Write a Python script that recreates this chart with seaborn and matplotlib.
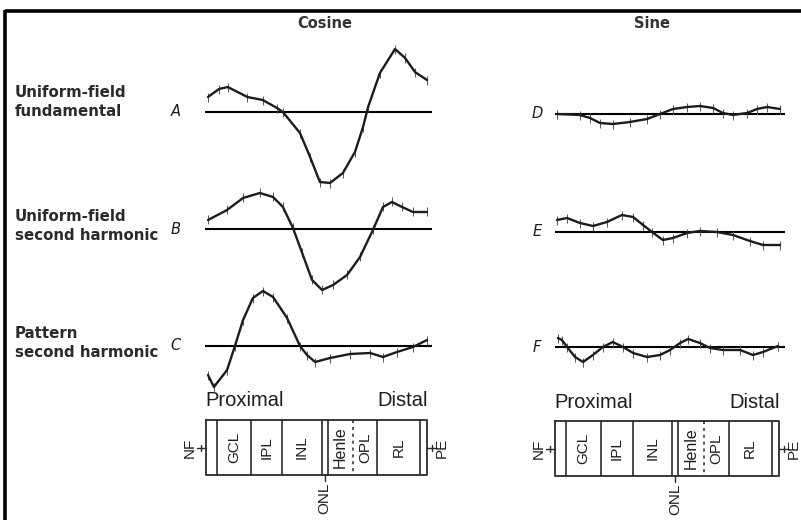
import numpy as np
import pandas as pd
import matplotlib
matplotlib.use("Agg")
import matplotlib.pyplot as plt
import seaborn as sns

sns.set_theme(style="white")
plt.rcParams["font.family"] = ["DejaVu Sans"]

# ---------------------------------------------------------------------------
# Response profiles across retinal depth (0 = proximal, 1 = distal),
# in arbitrary response units.
# ---------------------------------------------------------------------------
depth_A = [0.0, 0.05, 0.09, 0.18, 0.25, 0.315, 0.342, 0.42, 0.466, 0.511,
           0.557, 0.616, 0.671, 0.708, 0.731, 0.785, 0.854, 0.90, 0.945, 1.0]
resp_A = [1.5, 2.3, 2.5, 1.5, 1.2, 0.4, 0.0, -2.1, -4.5, -7.0,
          -7.1, -6.1, -4.0, -1.5, 0.5, 3.9, 6.3, 5.4, 4.0, 3.2]

depth_B = [0.0, 0.087, 0.16, 0.237, 0.297, 0.342, 0.388, 0.43, 0.475, 0.521,
           0.571, 0.635, 0.694, 0.753, 0.799, 0.84, 0.886, 0.936, 1.0]
resp_B = [0.9, 1.9, 3.1, 3.6, 3.2, 2.2, 0.1, -2.4, -5.1, -6.1,
          -5.6, -4.6, -2.8, -0.1, 2.2, 2.7, 2.2, 1.7, 1.7]

depth_C = [0.0, 0.027, 0.087, 0.123, 0.16, 0.205, 0.251, 0.297, 0.361, 0.42,
           0.452, 0.489, 0.557, 0.648, 0.74, 0.799, 0.863, 0.936, 1.0]
resp_C = [-2.9, -4.1, -2.4, 0.0, 2.6, 4.8, 5.5, 4.9, 2.8, 0.0,
          -0.9, -1.6, -1.2, -0.8, -0.7, -1.1, -0.6, -0.1, 0.6]

depth_D = [0.0, 0.103, 0.148, 0.193, 0.251, 0.327, 0.404, 0.462, 0.52, 0.583,
           0.641, 0.70, 0.744, 0.789, 0.852, 0.897, 0.942, 1.0]
resp_D = [0.0, -0.1, -0.4, -0.9, -1.0, -0.8, -0.5, 0.0, 0.5, 0.7,
          0.8, 0.6, 0.1, -0.1, 0.1, 0.5, 0.7, 0.5]

depth_E = [0.0, 0.045, 0.103, 0.161, 0.224, 0.291, 0.341, 0.386, 0.426, 0.475,
           0.52, 0.583, 0.641, 0.717, 0.789, 0.865, 0.924, 1.0]
resp_E = [1.2, 1.4, 0.9, 0.6, 1.0, 1.7, 1.5, 0.7, 0.0, -0.8,
          -0.6, -0.1, 0.1, 0.0, -0.3, -0.9, -1.3, -1.3]

depth_F = [0.004, 0.022, 0.045, 0.081, 0.117, 0.161, 0.206, 0.25, 0.296, 0.341,
           0.404, 0.462, 0.507, 0.552, 0.588, 0.641, 0.686, 0.744, 0.821, 0.879,
           0.924, 0.991]
resp_F = [0.9, 0.7, 0.0, -1.0, -1.5, -0.8, 0.0, 0.5, 0.0, -0.6,
          -1.0, -0.8, -0.3, 0.4, 0.8, 0.4, -0.1, -0.3, -0.3, -0.8,
          -0.5, 0.1]

panel_letters = ["A", "B", "C", "D", "E", "F"]
row_labels = [("Uniform-field", "fundamental"),
              ("Uniform-field", "second harmonic"),
              ("Pattern", "second harmonic")]
column_titles = ["Cosine", "Sine"]

# Retinal layer diagram: compartment edges as a fraction of the slab depth
layer_edges = [0.0, 0.05, 0.205, 0.346, 0.523, 0.55, 0.663, 0.775, 0.968, 1.0]
layer_names = ["", "GCL", "IPL", "INL", "", "Henle", "OPL", "RL", ""]
dotted_edge = 0.663

# ---------------------------------------------------------------------------
W, H = 801, 520
fig = plt.figure(figsize=(W / 100, H / 100), dpi=100)
bg = fig.add_axes([0, 0, 1, 1])
bg.set_xlim(0, W)
bg.set_ylim(H, 0)
bg.axis("off")

INK = "#1c1c1c"

# outer frame (top and left rules)
bg.plot([4.5, W], [11, 11], color="black", lw=2.6, solid_capstyle="butt")
bg.plot([5, 5], [10, H], color="black", lw=2.6, solid_capstyle="butt")


def panel_axes(x0, x1, yc, half=85):
    ax = fig.add_axes([x0 / W, 1 - (yc + half) / H, (x1 - x0) / W, 2 * half / H])
    ax.set_facecolor("none")
    ax.axis("off")
    return ax


cols = [
    dict(x0=205, x1=432, xlim=(-0.0137, 1.0228), letter_x=176,
         baselines=[112, 229, 346]),
    dict(x0=555, x1=785, xlim=(-0.009, 1.0224), letter_x=537,
         baselines=[114, 232, 347]),
]
series = [(depth_A, resp_A), (depth_B, resp_B), (depth_C, resp_C),
          (depth_D, resp_D), (depth_E, resp_E), (depth_F, resp_F)]

for ci, col in enumerate(cols):
    for ri in range(3):
        k = ci * 3 + ri
        d, r = series[k]
        df = pd.DataFrame({"depth": d, "response": r})
        yc = col["baselines"][ri]
        ax = panel_axes(col["x0"], col["x1"], yc)
        ax.set_xlim(*col["xlim"])
        ax.set_ylim(-8.5, 8.5)
        ax.axhline(0, color="black", lw=1.5, zorder=1)
        ax.vlines(df["depth"], df["response"] - 0.45, df["response"] + 0.45,
                  color="#555555", lw=0.7, zorder=2)
        sns.lineplot(data=df, x="depth", y="response", ax=ax, color=INK,
                     lw=1.7, zorder=3, sort=False)
        ax.set_xlabel("")
        ax.set_ylabel("")
        bg.text(col["letter_x"], yc, panel_letters[k], fontsize=10.5,
                style="italic", color=INK, ha="center", va="center")

# column titles
bg.text(325, 23, column_titles[0], fontsize=10.5, fontweight="bold",
        color="#333333", ha="center", va="center")
bg.text(652, 24, column_titles[1], fontsize=10.5, fontweight="bold",
        color="#333333", ha="center", va="center")

# row labels
for (l1, l2), yc in zip(row_labels, [102, 226, 343]):
    bg.text(15, yc - 9.5, l1, fontsize=10.8, fontweight="bold",
            color="#2a2a2a", ha="left", va="center")
    bg.text(15, yc + 9.5, l2, fontsize=10.8, fontweight="bold",
            color="#2a2a2a", ha="left", va="center")


def layer_diagram(x0, x1, y0, y1, text_y):
    span = x1 - x0
    lab_font = dict(family="Liberation Sans", color="#1e1e1e")
    bg.text(x0 - 1, text_y, "Proximal", fontsize=14.5, ha="left",
            va="center", **lab_font)
    bg.text(x1 + 1, text_y, "Distal", fontsize=14.5, ha="right",
            va="center", **lab_font)
    xs = [x0 + e * span for e in layer_edges]
    bg.plot([x0, x1, x1, x0, x0], [y0, y0, y1, y1, y0], color="#2a2a2a",
            lw=1.3)
    for e, x in zip(layer_edges[1:-1], xs[1:-1]):
        if abs(e - dotted_edge) < 1e-9:
            bg.plot([x, x], [y0, y1], color="#2a2a2a", lw=1.1,
                    ls=(0, (2, 2.5)))
        else:
            bg.plot([x, x], [y0, y1], color="#2a2a2a", lw=1.2)
    ym = (y0 + y1) / 2
    for name, a, b in zip(layer_names, xs[:-1], xs[1:]):
        if name:
            fs = 11.5 if name == "Henle" else 11
            bg.text((a + b) / 2, ym, name, rotation=90, fontsize=fs,
                    ha="center", va="center", **lab_font)
    # nerve fibre and pigment epithelium markers
    bg.plot([x0 - 9, x0], [ym, ym], color="#2a2a2a", lw=1.0)
    bg.plot([x0 - 5, x0 - 5], [ym - 3, ym + 3], color="#2a2a2a", lw=1.0)
    bg.text(x0 - 16, ym, "NF", rotation=90, fontsize=11, ha="center",
            va="center", **lab_font)
    bg.plot([x1, x1 + 9], [ym, ym], color="#2a2a2a", lw=1.0)
    bg.plot([x1 + 5, x1 + 5], [ym - 3, ym + 3], color="#2a2a2a", lw=1.0)
    bg.text(x1 + 15, ym, "PE", rotation=90, fontsize=11, ha="center",
            va="center", **lab_font)
    onl_x = (xs[4] + xs[5]) / 2
    bg.plot([onl_x, onl_x], [y1, y1 + 6], color="#2a2a2a", lw=1.0)
    bg.text(onl_x, y1 + 23, "ONL", rotation=90, fontsize=11, ha="center",
            va="center", **lab_font)


layer_diagram(206, 427, 420, 475, 400)
layer_diagram(555, 779, 421, 476, 402)

fig.savefig("out.png", dpi=100, facecolor="white")
